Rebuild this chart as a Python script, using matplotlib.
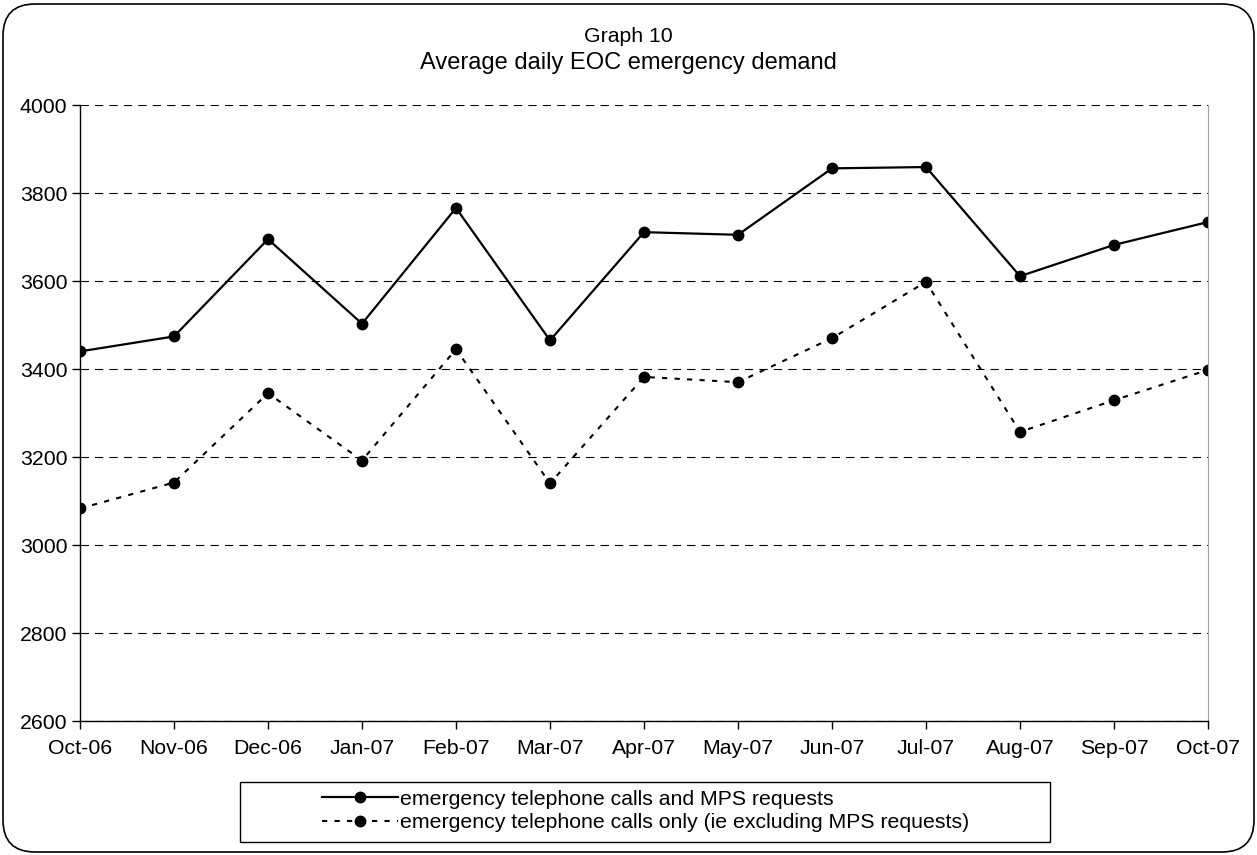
#!/usr/bin/env python3
'''Graph 10 - average daily EOC emergency demand'''

import matplotlib
matplotlib.use('Agg')
import matplotlib.pyplot as plt
from matplotlib.patches import FancyBboxPatch, Rectangle

months = ['Oct-06', 'Nov-06', 'Dec-06', 'Jan-07', 'Feb-07', 'Mar-07', 'Apr-07',
          'May-07', 'Jun-07', 'Jul-07', 'Aug-07', 'Sep-07', 'Oct-07']
calls_and_mps = [3440, 3474, 3695, 3503, 3766, 3465, 3711,
                 3705, 3856, 3859, 3611, 3682, 3734]
calls_only = [3083, 3142, 3345, 3192, 3445, 3140, 3382,
              3370, 3470, 3598, 3257, 3329, 3398]
y_ticks = [2600, 2800, 3000, 3200, 3400, 3600, 3800, 4000]

plt.rcParams['font.family'] = ['Liberation Sans', 'DejaVu Sans']

W, H = 1257, 855
FS = 15.3
fig = plt.figure(figsize=(W / 100, H / 100), dpi=100)

# background layer for the rounded frame and legend box (pixel coordinates)
bg = fig.add_axes([0, 0, 1, 1])
bg.set_xlim(0, W)
bg.set_ylim(H, 0)
bg.axis('off')
bg.add_patch(FancyBboxPatch((3, 4), W - 6, H - 7,
                            boxstyle='round,pad=0,rounding_size=32',
                            fill=False, edgecolor='black', linewidth=1.2))
bg.add_patch(Rectangle((240, 782), 810, 60, fill=False,
                       edgecolor='black', linewidth=1.0))

ax = fig.add_axes([80 / W, (H - 721) / H, 1128 / W, 616 / H])
x = list(range(len(months)))
line1, = ax.plot(x, calls_and_mps, color='black', linewidth=1.6,
                 marker='o', markersize=7.5, label='emergency telephone calls and MPS requests')
line2, = ax.plot(x, calls_only, color='black', linewidth=1.5, linestyle=(0, (2.5, 3.5)),
                 marker='o', markersize=7.5,
                 label='emergency telephone calls only (ie excluding MPS requests)')

ax.set_xlim(0, len(months) - 1)
ax.set_ylim(2600, 4000)
ax.set_yticks(y_ticks)
ax.set_xticks(x)
ax.set_xticklabels(months)
ax.tick_params(axis='both', labelsize=FS, length=6, width=1, direction='out', color='black')
ax.tick_params(axis='x', pad=7)
ax.tick_params(axis='y', pad=3)
ax.yaxis.grid(True, color='black', linewidth=0.8, linestyle=(0, (7.5, 5.5)))
ax.set_axisbelow(True)
ax.spines['top'].set_visible(False)
ax.spines['right'].set_color('#a0a0a0')
ax.spines['left'].set_linewidth(1)
ax.spines['bottom'].set_linewidth(1)
ax.patch.set_alpha(0)

fig.text(0.5, 1 - 37 / H, 'Graph 10', ha='center', va='center', fontsize=15.3)
fig.text(0.5, 1 - 63 / H, 'Average daily EOC emergency demand', ha='center', va='center',
         fontsize=17)

fig.legend(handles=[line1, line2], loc='center left',
           bbox_to_anchor=(311 / W, 1 - 811 / H), frameon=False, fontsize=FS,
           handlelength=3.6, handletextpad=0.1, labelspacing=0.2, borderpad=0)

fig.savefig('out.png', dpi=100)
